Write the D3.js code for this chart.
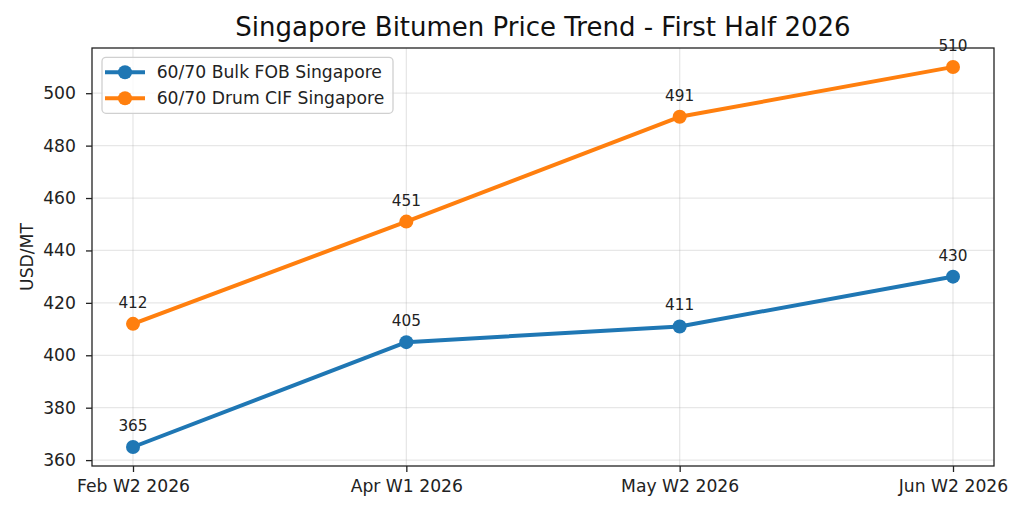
<!DOCTYPE html>
<html>
<head>
<meta charset="utf-8">
<script src="https://cdn.jsdelivr.net/npm/d3@7"></script>
<style>
  body { margin: 0; background: #fff; }
  svg { display: block; font-family: "DejaVu Sans", sans-serif; }
</style>
</head>
<body>
<div class="chart-area"></div>
<script>
// data
const periods = ["Feb W2 2026", "Apr W1 2026", "May W2 2026", "Jun W2 2026"];
const bulkFob = [365, 405, 411, 430];
const drumCif = [412, 451, 491, 510];
const seriesNames = ["60/70 Bulk FOB Singapore", "60/70 Drum CIF Singapore"];
const seriesColors = ["#1f77b4", "#ff7f0e"];
const yTicks = [360, 380, 400, 420, 440, 460, 480, 500];

const width = 1024, height = 514;
const margin = { top: 48, right: 30, bottom: 48, left: 92 };
const innerWidth = width - margin.left - margin.right,
  innerHeight = height - margin.top - margin.bottom;

const series = [bulkFob, drumCif].map((vals, i) => ({
  name: seriesNames[i],
  color: seriesColors[i],
  values: vals.map((v, j) => ({ i: j, v: v }))
}));

const svg = d3.select(".chart-area")
  .append("svg")
  .attr("width", width)
  .attr("height", height);

// matplotlib style 5% margins
const allVals = bulkFob.concat(drumCif);
const yMin = d3.min(allVals), yMax = d3.max(allVals);
const yPad = (yMax - yMin) * 0.05;
const xPad = (periods.length - 1) * 0.05;

const x = d3.scaleLinear()
  .domain([-xPad, periods.length - 1 + xPad])
  .range([0, innerWidth]);
const y = d3.scaleLinear()
  .domain([yMin - yPad, yMax + yPad])
  .range([innerHeight, 0]);

const g = svg.append("g")
  .attr("transform", `translate(${margin.left},${margin.top})`);

// grid
g.append("g")
  .selectAll("line")
  .data(yTicks)
  .enter()
  .append("line")
  .attr("x1", 0).attr("x2", innerWidth)
  .attr("y1", d => y(d)).attr("y2", d => y(d))
  .attr("stroke", "#b0b0b0").attr("stroke-opacity", 0.3).attr("stroke-width", 1.3);
g.append("g")
  .selectAll("line")
  .data(d3.range(periods.length))
  .enter()
  .append("line")
  .attr("x1", d => x(d)).attr("x2", d => x(d))
  .attr("y1", 0).attr("y2", innerHeight)
  .attr("stroke", "#b0b0b0").attr("stroke-opacity", 0.3).attr("stroke-width", 1.3);

// axes
const xAxis = g.append("g")
  .attr("transform", `translate(0,${innerHeight})`)
  .call(d3.axisBottom(x)
    .tickValues(d3.range(periods.length))
    .tickFormat(i => periods[i])
    .tickSize(6).tickPadding(8));
const yAxis = g.append("g")
  .call(d3.axisLeft(y)
    .tickValues(yTicks)
    .tickSize(6).tickPadding(10));
[xAxis, yAxis].forEach(a => {
  a.select(".domain").remove();
  a.selectAll(".tick line").attr("stroke", "#222").attr("stroke-width", 1.3);
  a.selectAll(".tick text")
    .attr("font-family", "DejaVu Sans")
    .attr("font-size", 17.2)
    .attr("fill", "#222");
});

// frame
g.append("rect")
  .attr("width", innerWidth).attr("height", innerHeight)
  .attr("fill", "none").attr("stroke", "#222").attr("stroke-width", 1.3);

// lines
const line = d3.line().x(d => x(d.i)).y(d => y(d.v));
const sg = g.append("g")
  .selectAll("g")
  .data(series)
  .enter()
  .append("g");

sg.append("path")
  .attr("d", d => line(d.values))
  .attr("fill", "none")
  .attr("stroke", d => d.color)
  .attr("stroke-width", 4)
  .attr("stroke-linejoin", "round")
  .attr("stroke-linecap", "square");

sg.selectAll("circle")
  .data(d => d.values.map(p => ({ ...p, color: d.color })))
  .enter()
  .append("circle")
  .attr("cx", d => x(d.i)).attr("cy", d => y(d.v))
  .attr("r", 7)
  .attr("fill", d => d.color);

sg.selectAll("text")
  .data(d => d.values)
  .enter()
  .append("text")
  .attr("x", d => x(d.i))
  .attr("y", d => y(d.v) - 16)
  .attr("text-anchor", "middle")
  .attr("font-size", 15.3)
  .attr("fill", "#222")
  .text(d => d.v);

// legend
const legend = g.append("g").attr("transform", "translate(10,9.3)");
legend.append("rect")
  .attr("width", 291).attr("height", 56)
  .attr("rx", 4)
  .attr("fill", "#fff").attr("fill-opacity", 0.8)
  .attr("stroke", "#d0d0d0").attr("stroke-width", 1.3);
const item = legend.selectAll("g.item")
  .data(series)
  .enter()
  .append("g")
  .attr("class", "item")
  .attr("transform", (d, i) => `translate(0,${15 + i * 26})`);
item.append("line")
  .attr("x1", 3).attr("x2", 43)
  .attr("stroke", d => d.color).attr("stroke-width", 4);
item.append("circle")
  .attr("cx", 23).attr("r", 7)
  .attr("fill", d => d.color);
item.append("text")
  .attr("x", 54.7).attr("dy", "0.35em")
  .attr("font-size", 17.2)
  .attr("fill", "#222")
  .text(d => d.name);

// title and y label
svg.append("text")
  .attr("x", margin.left + innerWidth / 2)
  .attr("y", 36)
  .attr("text-anchor", "middle")
  .attr("font-size", 26)
  .attr("fill", "#111")
  .text("Singapore Bitumen Price Trend - First Half 2026");

svg.append("text")
  .attr("transform", `translate(33,${margin.top + innerHeight / 2}) rotate(-90)`)
  .attr("text-anchor", "middle")
  .attr("font-size", 17.2)
  .attr("fill", "#222")
  .text("USD/MT");
</script>
</body>
</html>
